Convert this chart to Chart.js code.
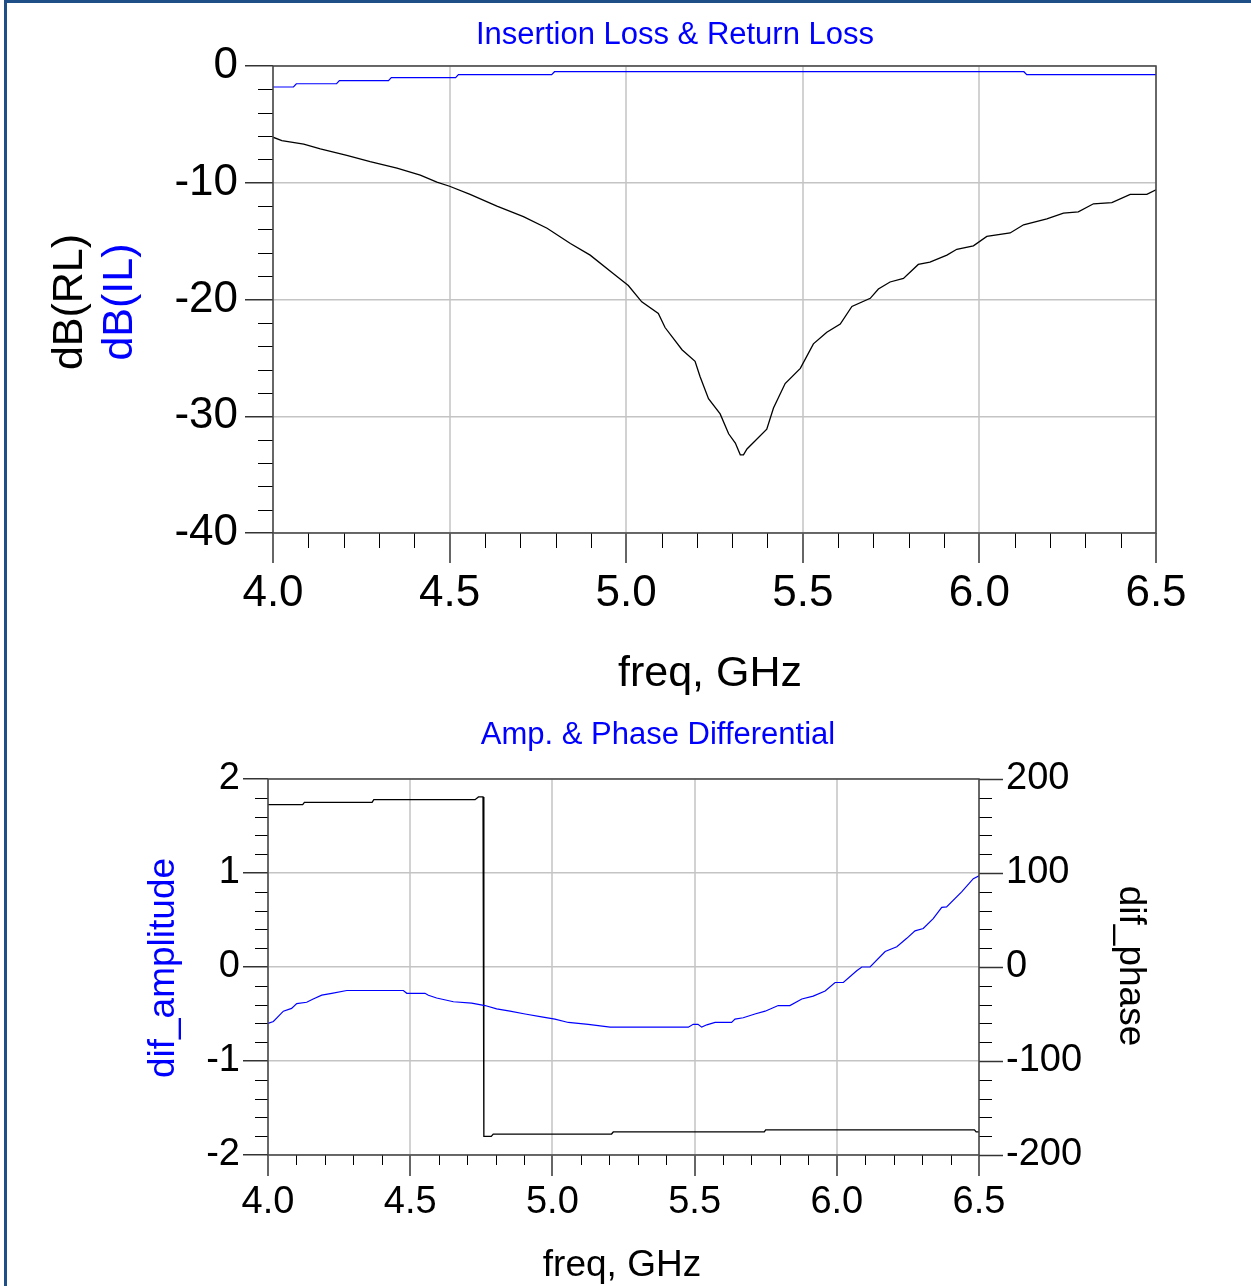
<!DOCTYPE html>
<html>
<head>
<meta charset="utf-8">
<title>Insertion Loss & Return Loss</title>
<script src="https://cdn.jsdelivr.net/npm/chart.js@4.4.0/dist/chart.umd.min.js"></script>
<style>
    html, body { margin: 0; padding: 0; background: #fff; }
    #page { position: relative; width: 1251px; height: 1286px; overflow: hidden; }
    #frame {
        position: absolute; left: 4px; top: 0; width: 1247px; height: 1286px;
        border-left: 3px solid #1f4f87; border-top: 3px solid #1f4f87; box-sizing: border-box;
    }
    canvas { position: absolute; left: 0; }
</style>
</head>
<body>
<div id="page">
    <div id="frame"></div>
    <canvas id="lossChart" width="1251" height="700" style="top:0"></canvas>
    <canvas id="diffChart" width="1251" height="586" style="top:700px"></canvas>
</div>
<script>
// top plot: return loss (black) and insertion loss (blue), dB vs GHz
const rlFreq = [4.0, 4.025, 4.087, 4.134, 4.209, 4.275, 4.351, 4.417, 4.464, 4.5, 4.558, 4.634, 4.709, 4.776, 4.842, 4.898, 4.964, 5.006, 5.044, 5.091, 5.110, 5.158, 5.195, 5.209, 5.233, 5.266, 5.290, 5.309, 5.323, 5.332, 5.342, 5.398, 5.417, 5.450, 5.493, 5.530, 5.568, 5.606, 5.639, 5.691, 5.714, 5.747, 5.785, 5.827, 5.860, 5.908, 5.936, 5.983, 6.021, 6.087, 6.125, 6.191, 6.238, 6.280, 6.323, 6.375, 6.427, 6.474, 6.5];
const rlDb = [-6.1, -6.4, -6.7, -7.1, -7.65, -8.2, -8.75, -9.35, -9.95, -10.3, -11.0, -12.0, -12.9, -13.9, -15.2, -16.2, -17.8, -18.8, -20.2, -21.2, -22.4, -24.3, -25.3, -26.6, -28.5, -29.8, -31.5, -32.3, -33.3, -33.3, -32.8, -31.1, -29.3, -27.2, -25.9, -23.8, -22.8, -22.1, -20.6, -19.9, -19.1, -18.5, -18.2, -17.0, -16.8, -16.2, -15.7, -15.4, -14.6, -14.3, -13.6, -13.1, -12.6, -12.5, -11.8, -11.7, -11.0, -11.0, -10.6];

const ilFreq = [4.0, 4.058, 4.066, 4.180, 4.188, 4.327, 4.335, 4.517, 4.525, 4.789, 4.797, 6.126, 6.134, 6.5];
const ilDb = [-1.8, -1.8, -1.52, -1.52, -1.26, -1.26, -1.0, -1.0, -0.74, -0.74, -0.49, -0.49, -0.74, -0.74];

// bottom plot: amplitude difference (blue, left axis) and phase difference (black, right axis)
const ampFreq = [4.0, 4.019, 4.054, 4.083, 4.101, 4.136, 4.159, 4.189, 4.224, 4.277, 4.476, 4.488, 4.552, 4.564, 4.593, 4.652, 4.716, 4.763, 4.804, 4.851, 4.904, 4.962, 5.009, 5.056, 5.126, 5.203, 5.396, 5.478, 5.495, 5.512, 5.525, 5.543, 5.572, 5.630, 5.642, 5.671, 5.712, 5.748, 5.794, 5.835, 5.877, 5.917, 5.959, 5.994, 6.023, 6.070, 6.088, 6.117, 6.170, 6.211, 6.246, 6.275, 6.304, 6.339, 6.369, 6.386, 6.439, 6.480, 6.5];
const ampDb = [-0.60, -0.58, -0.47, -0.44, -0.39, -0.375, -0.34, -0.30, -0.28, -0.25, -0.25, -0.28, -0.28, -0.30, -0.33, -0.37, -0.385, -0.41, -0.445, -0.47, -0.50, -0.53, -0.555, -0.59, -0.61, -0.64, -0.64, -0.64, -0.61, -0.61, -0.64, -0.615, -0.59, -0.59, -0.555, -0.54, -0.50, -0.47, -0.41, -0.41, -0.34, -0.31, -0.255, -0.165, -0.165, -0.04, 0.0, 0.0, 0.165, 0.215, 0.305, 0.385, 0.41, 0.515, 0.635, 0.64, 0.80, 0.94, 0.97];

const phFreq = [4.0, 4.122, 4.128, 4.366, 4.372, 4.728, 4.740, 4.756, 4.759, 4.785, 4.792, 5.208, 5.214, 5.745, 5.750, 6.484, 6.490, 6.5];
const phDeg = [172.7, 172.7, 175.1, 175.1, 178.0, 178.0, 180.9, 180.9, -180.2, -180.2, -177.7, -177.7, -175.5, -175.5, -173.2, -173.2, -175.5, -175.5];

const freqTicks = [4.0, 4.5, 5.0, 5.5, 6.0, 6.5];

const FONT = "'Liberation Sans', Arial, Helvetica, sans-serif";
Chart.defaults.font.family = FONT;
Chart.defaults.color = "#000";

function toPoints(xs, ys) {
    return xs.map((x, i) => ({ x: x, y: ys[i] }));
}

// minor ticks, plot frame and free text (titles)
const decorPlugin = {
    id: "decor",
    afterDraw(chart, args, opts) {
        const ctx = chart.ctx;
        const area = chart.chartArea;
        ctx.save();

        ctx.strokeStyle = "#000";
        ctx.lineWidth = 1;
        (opts.minor || []).forEach((m) => {
            const scale = chart.scales[m.scale];
            const n = Math.round((scale.max - scale.min) / m.step);
            ctx.beginPath();
            for (let i = 1; i < n; i++) {
                const v = scale.min + i * m.step;
                const r = v / m.major;
                if (Math.abs(r - Math.round(r)) < 1e-6) continue;
                const p = Math.round(scale.getPixelForValue(v)) + 0.5;
                if (m.side === "left") {
                    ctx.moveTo(area.left - m.len, p);
                    ctx.lineTo(area.left, p);
                } else if (m.side === "right") {
                    ctx.moveTo(area.right, p);
                    ctx.lineTo(area.right + m.len, p);
                } else {
                    ctx.moveTo(p, area.bottom);
                    ctx.lineTo(p, area.bottom + m.len);
                }
            }
            ctx.stroke();
        });

        ctx.strokeStyle = "#444";
        ctx.lineWidth = 1.5;
        ctx.strokeRect(area.left, area.top, area.right - area.left, area.bottom - area.top);

        (opts.labels || []).forEach((l) => {
            ctx.save();
            ctx.translate(l.x, l.y);
            if (l.rot) ctx.rotate((l.rot * Math.PI) / 180);
            ctx.font = l.size + "px " + FONT;
            ctx.fillStyle = l.color;
            ctx.textAlign = "center";
            ctx.textBaseline = "alphabetic";
            ctx.fillText(l.text, 0, 0);
            ctx.restore();
        });
        ctx.restore();
    },
};

function freqAxis(height, tickLen, fontSize, pad) {
    return {
        type: "linear",
        position: "bottom",
        min: 4,
        max: 6.5,
        afterFit: (s) => { s.height = height; },
        afterBuildTicks: (s) => { s.ticks = freqTicks.map((v) => ({ value: v })); },
        ticks: {
            callback: (v) => Number(v).toFixed(1),
            font: { size: fontSize },
            color: "#000",
            padding: pad,
            autoSkip: false,
            maxRotation: 0,
        },
        grid: { color: "#d2d2d2", lineWidth: 2, tickLength: tickLen, tickColor: "#333", tickWidth: 1.5 },
        border: { display: false },
    };
}

new Chart(document.getElementById("lossChart"), {
    type: "line",
    data: {
        datasets: [
            { label: "dB(RL)", data: toPoints(rlFreq, rlDb), borderColor: "#000", borderWidth: 1.3, pointRadius: 0, fill: false },
            { label: "dB(IL)", data: toPoints(ilFreq, ilDb), borderColor: "#0000ff", borderWidth: 1.2, pointRadius: 0, fill: false },
        ],
    },
    options: {
        responsive: false,
        animation: false,
        devicePixelRatio: 1,
        layout: { padding: { left: 0, right: 95, top: 66, bottom: 0 } },
        plugins: {
            legend: { display: false },
            tooltip: { enabled: false },
            decor: {
                minor: [
                    { scale: "x", step: 0.1, major: 0.5, len: 15, side: "bottom" },
                    { scale: "y", step: 2, major: 10, len: 15, side: "left" },
                ],
                labels: [
                    { text: "Insertion Loss & Return Loss", x: 675, y: 44, size: 31, color: "#0000ff" },
                    { text: "freq, GHz", x: 710, y: 686, size: 43, color: "#000" },
                    { text: "dB(RL)", x: 82, y: 302, size: 43, color: "#000", rot: -90 },
                    { text: "dB(IL)", x: 132, y: 302, size: 43, color: "#0000ff", rot: -90 },
                ],
            },
        },
        scales: {
            x: freqAxis(167, 30, 44, 4),
            y: {
                type: "linear",
                min: -40,
                max: 0,
                afterFit: (s) => { s.width = 273; },
                ticks: { stepSize: 10, callback: (v) => String(v), font: { size: 44 }, color: "#000", padding: 7 },
                grid: { color: "#c4c4c4", lineWidth: 1.5, tickLength: 28, tickColor: "#333", tickWidth: 1.5 },
                border: { display: false },
            },
        },
    },
    plugins: [decorPlugin],
});

new Chart(document.getElementById("diffChart"), {
    type: "line",
    data: {
        datasets: [
            { label: "dif_amplitude", data: toPoints(ampFreq, ampDb), yAxisID: "y", borderColor: "#0000ff", borderWidth: 1.2, pointRadius: 0, fill: false },
            { label: "dif_phase", data: toPoints(phFreq, phDeg), yAxisID: "y2", borderColor: "#000", borderWidth: 1.3, pointRadius: 0, fill: false },
        ],
    },
    options: {
        responsive: false,
        animation: false,
        devicePixelRatio: 1,
        layout: { padding: { left: 0, right: 0, top: 79, bottom: 0 } },
        plugins: {
            legend: { display: false },
            tooltip: { enabled: false },
            decor: {
                minor: [
                    { scale: "x", step: 0.1, major: 0.5, len: 10, side: "bottom" },
                    { scale: "y", step: 0.2, major: 1, len: 13, side: "left" },
                    { scale: "y2", step: 20, major: 100, len: 13, side: "right" },
                ],
                labels: [
                    { text: "Amp. & Phase Differential", x: 658, y: 44, size: 31, color: "#0000ff" },
                    { text: "freq, GHz", x: 622, y: 576, size: 37, color: "#000" },
                    { text: "dif_amplitude", x: 174, y: 268, size: 37, color: "#0000ff", rot: -90 },
                    { text: "dif_phase", x: 1120, y: 266, size: 37, color: "#000", rot: 90 },
                ],
            },
        },
        scales: {
            x: freqAxis(131, 21, 38, 4),
            y: {
                type: "linear",
                position: "left",
                min: -2,
                max: 2,
                afterFit: (s) => { s.width = 268; },
                ticks: { stepSize: 1, callback: (v) => String(v), font: { size: 38 }, color: "#000", padding: 3 },
                grid: { color: "#c4c4c4", lineWidth: 1.5, tickLength: 25, tickColor: "#333", tickWidth: 1.5 },
                border: { display: false },
            },
            y2: {
                type: "linear",
                position: "right",
                min: -200,
                max: 200,
                afterFit: (s) => { s.width = 272; },
                ticks: { stepSize: 100, callback: (v) => String(v), font: { size: 38 }, color: "#000", padding: 3 },
                grid: { drawOnChartArea: false, tickLength: 24, tickColor: "#333", tickWidth: 1.5 },
                border: { display: false },
            },
        },
    },
    plugins: [decorPlugin],
});
</script>
</body>
</html>
